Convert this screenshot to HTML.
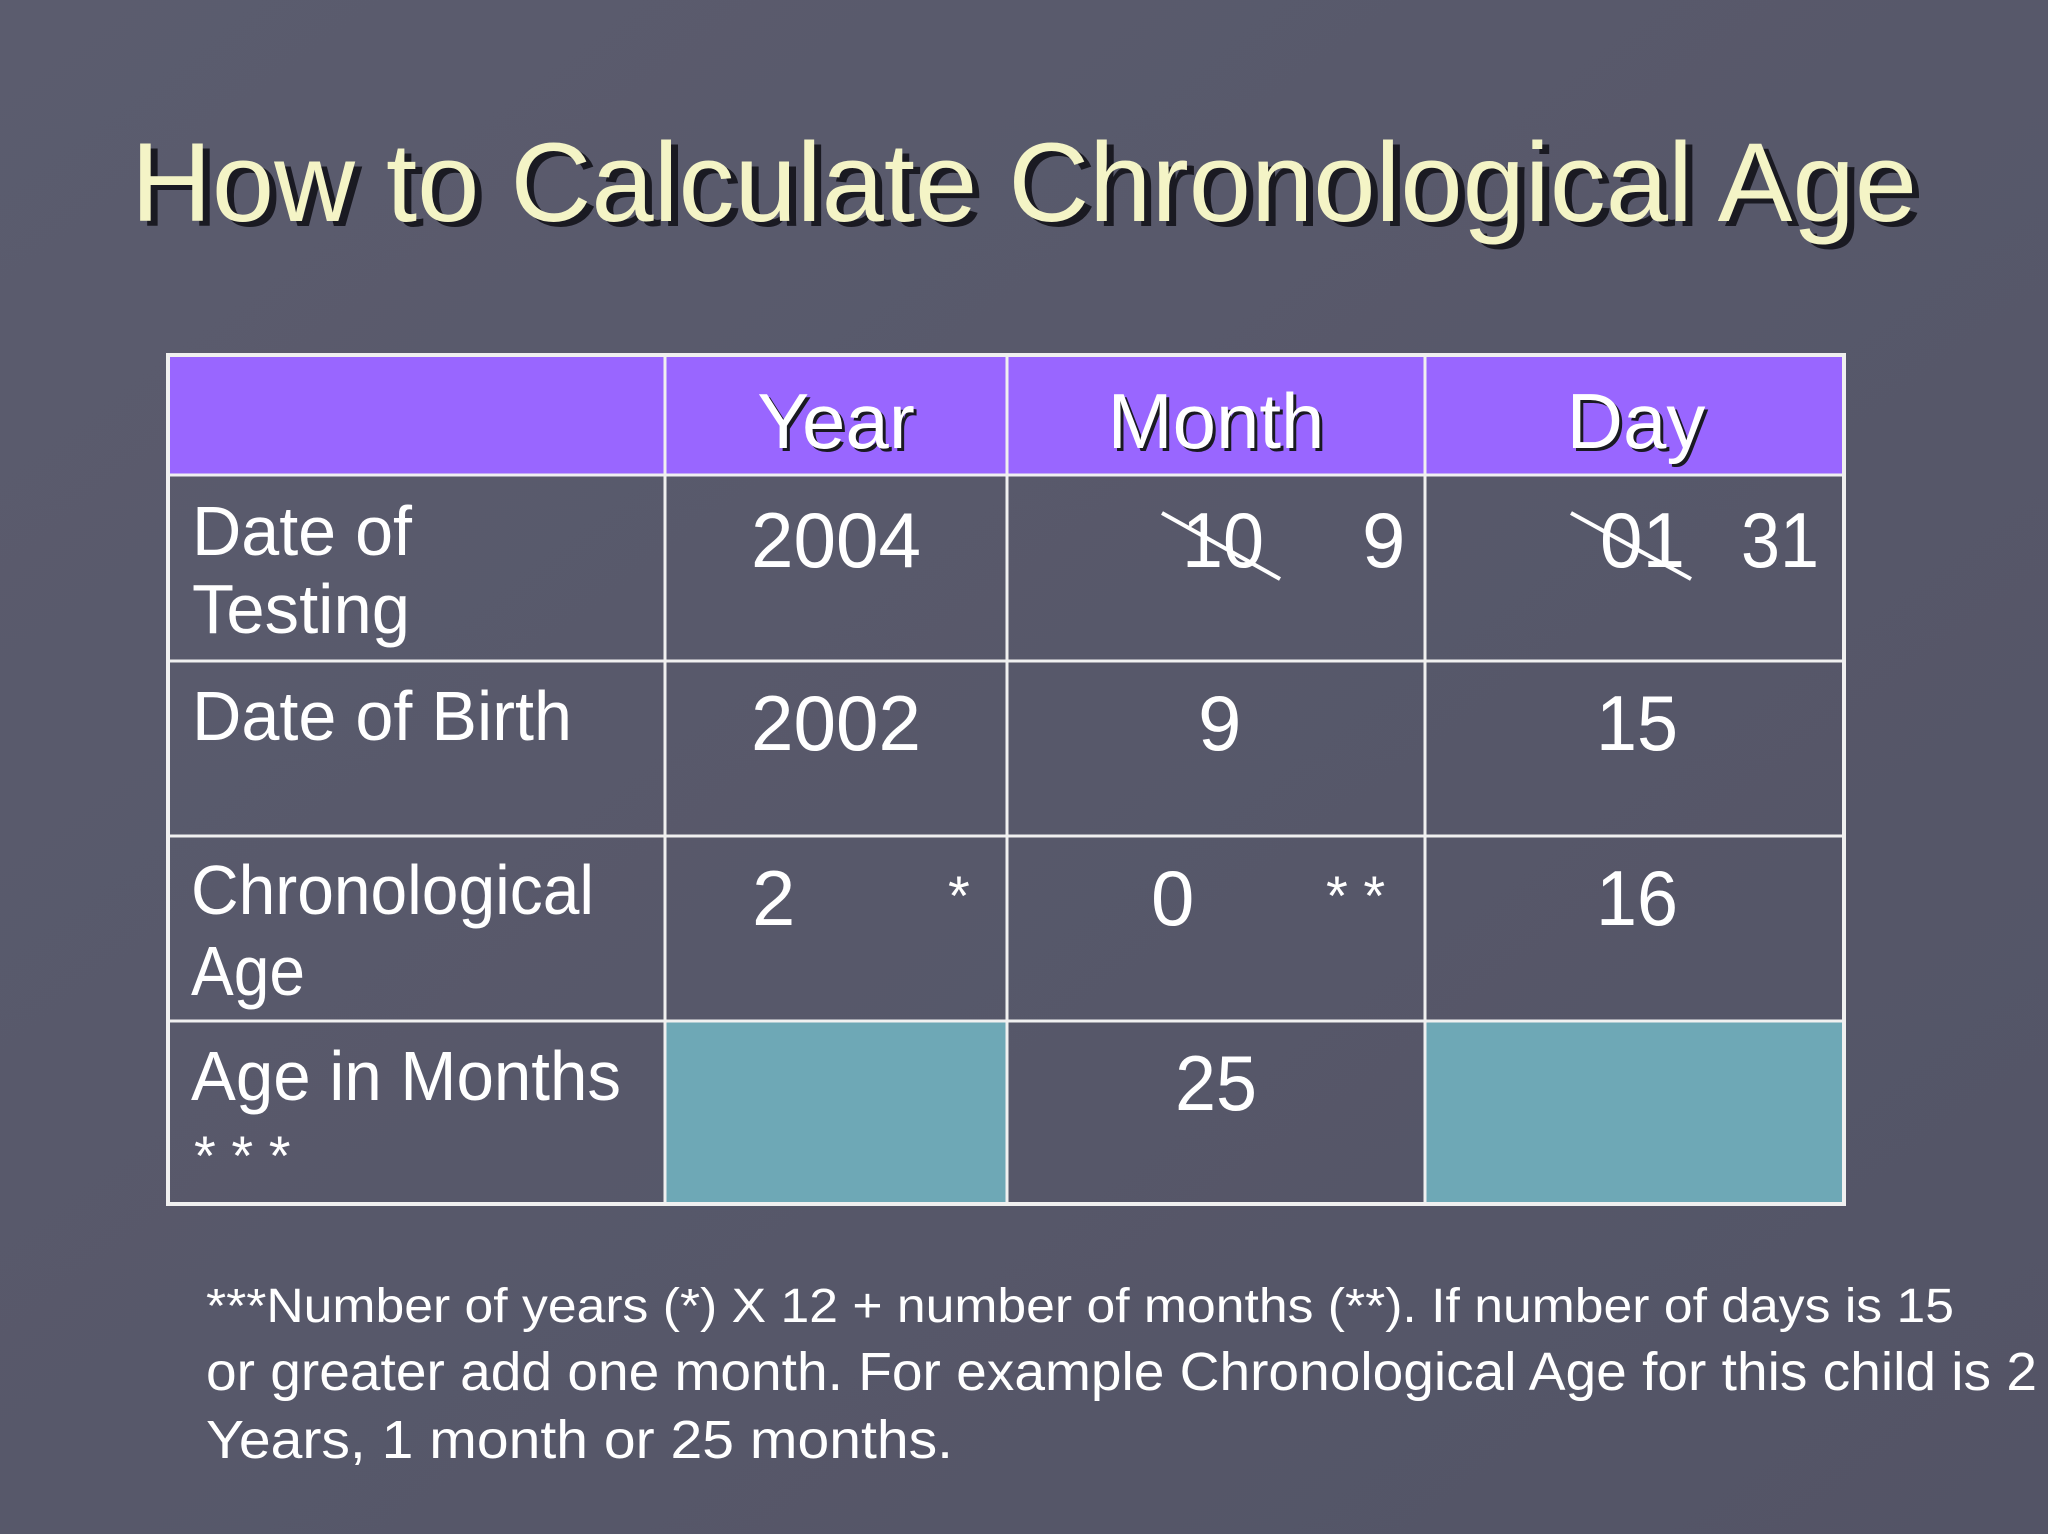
<!DOCTYPE html>
<html><head><meta charset="utf-8"><style>
html,body{margin:0;padding:0;background:#575869;}
svg{display:block;font-family:"Liberation Sans",Arial,sans-serif;}
</style></head><body>
<svg width="2048" height="1534" viewBox="0 0 2048 1534" xmlns="http://www.w3.org/2000/svg">
<defs><linearGradient id="bg" x1="0" y1="0" x2="1" y2="1"><stop offset="0" stop-color="#5b5c6e"/><stop offset="1" stop-color="#535466"/></linearGradient></defs>
<rect width="2048" height="1534" fill="url(#bg)"/>
<g>
<text x="138" y="226" font-size="112" fill="#1a1a22" textLength="1786" lengthAdjust="spacingAndGlyphs">How to Calculate Chronological Age</text>
<text x="131" y="221" font-size="112" fill="#f4f4c6" textLength="1786" lengthAdjust="spacingAndGlyphs">How to Calculate Chronological Age</text>
</g>
<g>
<rect x="167" y="354" width="1678" height="121" fill="#9966ff"/>
<rect x="665" y="1021" width="342" height="184" fill="#6ea8b6"/>
<rect x="1425" y="1021" width="420" height="184" fill="#6ea8b6"/>
<g stroke="#f0f0f0" stroke-width="3" fill="none">
<rect x="168" y="355" width="1676" height="849" stroke-width="4"/>
<line x1="665" y1="355" x2="665" y2="1205"/><line x1="1007" y1="355" x2="1007" y2="1205"/><line x1="1425" y1="355" x2="1425" y2="1205"/>
<line x1="168" y1="475" x2="1845" y2="475"/><line x1="168" y1="661" x2="1845" y2="661"/><line x1="168" y1="836" x2="1845" y2="836"/><line x1="168" y1="1021" x2="1845" y2="1021"/>
</g>
<g fill="#1a1a22" transform="translate(3,3)" font-size="78">
<text x="836" y="448" text-anchor="middle">Year</text><text x="1216" y="448" text-anchor="middle">Month</text><text x="1636" y="448" text-anchor="middle">Day</text>
</g>
<g fill="#ffffff" font-size="78">
<text x="836" y="448" text-anchor="middle">Year</text>
<text x="1216" y="448" text-anchor="middle">Month</text>
<text x="1636" y="448" text-anchor="middle">Day</text>
</g>
<g fill="#ffffff" font-size="70">
<text x="192" y="555" textLength="220" lengthAdjust="spacingAndGlyphs">Date of</text>
<text x="192" y="633" textLength="218" lengthAdjust="spacingAndGlyphs">Testing</text>
<text x="192" y="740" textLength="380" lengthAdjust="spacingAndGlyphs">Date of Birth</text>
<text x="191" y="914" textLength="403" lengthAdjust="spacingAndGlyphs">Chronological</text>
<text x="191" y="995" textLength="114" lengthAdjust="spacingAndGlyphs">Age</text>
<text x="191" y="1100" textLength="430" lengthAdjust="spacingAndGlyphs">Age in Months</text>
<text x="194" y="1175" font-size="56">* * *</text>
</g>
<g fill="#ffffff" font-size="78">
<text x="751" y="567" textLength="170" lengthAdjust="spacingAndGlyphs">2004</text>
<text x="1182" y="567" textLength="82" lengthAdjust="spacingAndGlyphs">10</text>
<text x="1362" y="567">9</text>
<text x="1600" y="567" textLength="85" lengthAdjust="spacingAndGlyphs">01</text>
<text x="1741" y="567" textLength="78" lengthAdjust="spacingAndGlyphs">31</text>
<text x="751" y="750" textLength="170" lengthAdjust="spacingAndGlyphs">2002</text>
<text x="1198" y="750">9</text>
<text x="1596" y="750" textLength="82" lengthAdjust="spacingAndGlyphs">15</text>
<text x="752" y="925">2</text>
<text x="948" y="915" font-size="56">*</text>
<text x="1151" y="925">0</text>
<text x="1326" y="915" font-size="56">* *</text>
<text x="1596" y="925" textLength="82" lengthAdjust="spacingAndGlyphs">16</text>
<text x="1175" y="1110" textLength="82" lengthAdjust="spacingAndGlyphs">25</text>
</g>
<g stroke="#ffffff" stroke-width="4">
<line x1="1162" y1="513" x2="1280" y2="579"/><line x1="1571" y1="513" x2="1691" y2="579"/>
</g>
</g>
<g fill="#ffffff">
<text x="206" y="1322" font-size="48" textLength="1748" lengthAdjust="spacingAndGlyphs">***Number of years (*) X 12 + number of months (**).  If number of days is 15</text>
<text x="206" y="1390" font-size="54" textLength="1831" lengthAdjust="spacingAndGlyphs">or greater add one month. For example Chronological Age for this child is 2</text>
<text x="206" y="1458" font-size="54" textLength="747" lengthAdjust="spacingAndGlyphs">Years, 1 month or 25 months.</text>
</g>
</svg>
</body></html>
